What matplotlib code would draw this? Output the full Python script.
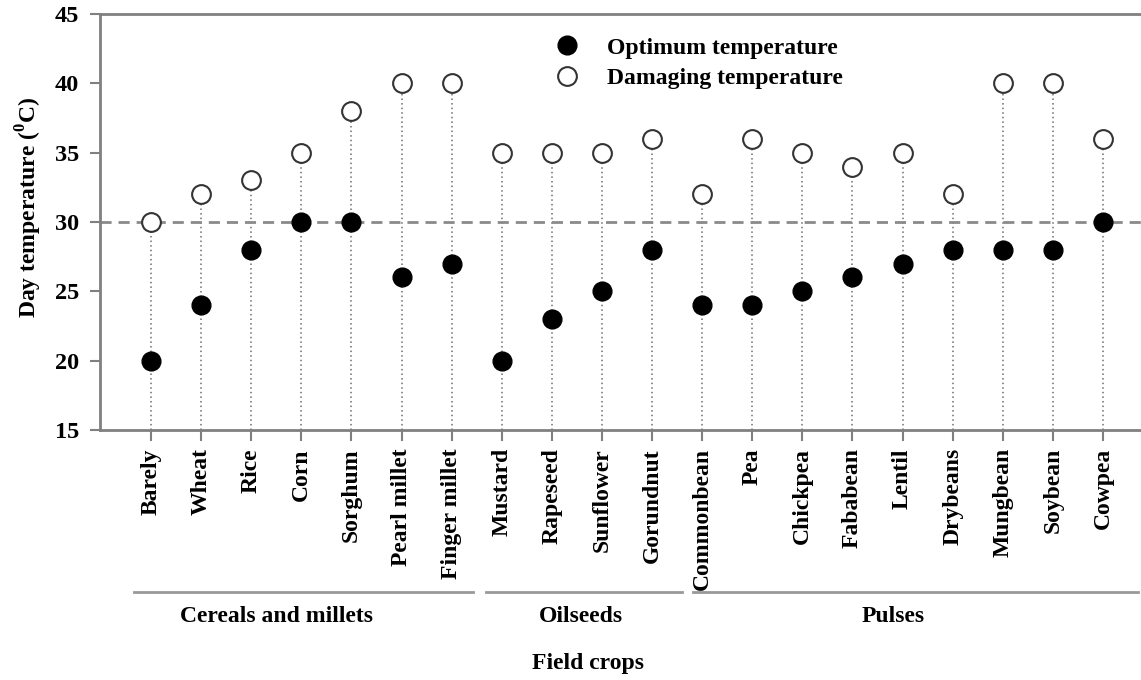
import matplotlib
matplotlib.use("Agg")
import matplotlib.pyplot as plt
import matplotlib.transforms as mtransforms

crops = ["Barely", "Wheat", "Rice", "Corn", "Sorghum", "Pearl millet", "Finger millet",
         "Mustard", "Rapeseed", "Sunflower", "Gorundnut",
         "Commonbean", "Pea", "Chickpea", "Fababean", "Lentil", "Drybeans",
         "Mungbean", "Soybean", "Cowpea"]
optimum = [20, 24, 28, 30, 30, 26, 27, 20, 23, 25, 28, 24, 24, 25, 26, 27, 28, 28, 28, 30]
damaging = [30, 32, 33, 35, 38, 40, 40, 35, 35, 35, 36, 32, 36, 35, 34, 35, 32, 40, 40, 36]
groups = ["Cereals and millets", "Oilseeds", "Pulses"]
group_spans = [(-0.34, 6.43), (6.69, 10.6), (10.82, 19.7)]
group_label_x = [2.5, 8.58, 14.82]
yticks = [15, 20, 25, 30, 35, 40, 45]

plt.rcParams['font.family'] = ['Liberation Serif', 'DejaVu Serif']
plt.rcParams['font.weight'] = 'bold'
plt.rcParams['mathtext.fontset'] = 'custom'
plt.rcParams['mathtext.rm'] = 'Liberation Serif:bold'
plt.rcParams['mathtext.bf'] = 'Liberation Serif:bold'

W, H = 1141, 680
fig = plt.figure(figsize=(W / 100, H / 100), dpi=100)
ax = fig.add_axes([100 / W, 1 - 430 / H, 1 - 100 / W, (430 - 14) / H])

grey = '#808080'
x = list(range(len(crops)))

ax.vlines(x, 15, damaging, colors='#6e6e6e', linestyles=(0, (1, 2)), linewidth=1.1, zorder=1)
ax.axhline(30, color='#8a8a8a', linestyle=(0, (4, 2.5)), linewidth=2, zorder=1)
ax.plot(x, optimum, 'o', color='black', markersize=13.5, linestyle='none', zorder=3,
        label='Optimum temperature')
ax.plot(x, damaging, 'o', markerfacecolor='white', markeredgecolor='#333333',
        markeredgewidth=1.5, markersize=13.5, linestyle='none', zorder=3,
        label='Damaging temperature')

ax.set_xlim(-1.02, 19.76)
ax.set_ylim(15, 45)
ax.set_yticks(yticks)
ax.set_xticks(x)
ax.set_xticklabels(crops, rotation=90, fontsize=17, fontweight='bold', va='top')
ax.tick_params(axis='y', labelsize=17.5, direction='out', length=7, width=1.5,
               color=grey, pad=8)
ax.tick_params(axis='x', direction='out', length=8, width=1.5, color=grey, pad=5)
for lab in ax.get_yticklabels():
    lab.set_fontweight('bold')

for side in ['left', 'top', 'bottom']:
    ax.spines[side].set_color(grey)
    ax.spines[side].set_linewidth(2)
ax.spines['right'].set_visible(False)

ax.set_ylabel(r'Day temperature ($^{\mathbf{0}}$C)', fontsize=17, fontweight='bold')
ax.yaxis.set_label_coords(-0.054, 0.535)

leg = ax.legend(loc='upper left', bbox_to_anchor=(555 / W, 1 - 37 / H),
                bbox_transform=fig.transFigure, frameon=False, fontsize=17,
                handlelength=1.0, handletextpad=1.2, labelspacing=0.38,
                borderpad=0, borderaxespad=0)
for t in leg.get_texts():
    t.set_fontweight('bold')

trans = mtransforms.blended_transform_factory(ax.transData, fig.transFigure)
line_y = 1 - 592 / H
for (a, b), name, lx in zip(group_spans, groups, group_label_x):
    ax.plot([a, b], [line_y, line_y], transform=trans, color='#999999', linewidth=2,
            clip_on=False)
    ax.text(lx, 1 - 617 / H, name, transform=trans, ha='center', va='center',
            fontsize=17, fontweight='bold')

fig.text(588 / W, 1 - 663 / H, 'Field crops', ha='center', va='center',
         fontsize=17, fontweight='bold')

fig.savefig('out.png', dpi=100)
